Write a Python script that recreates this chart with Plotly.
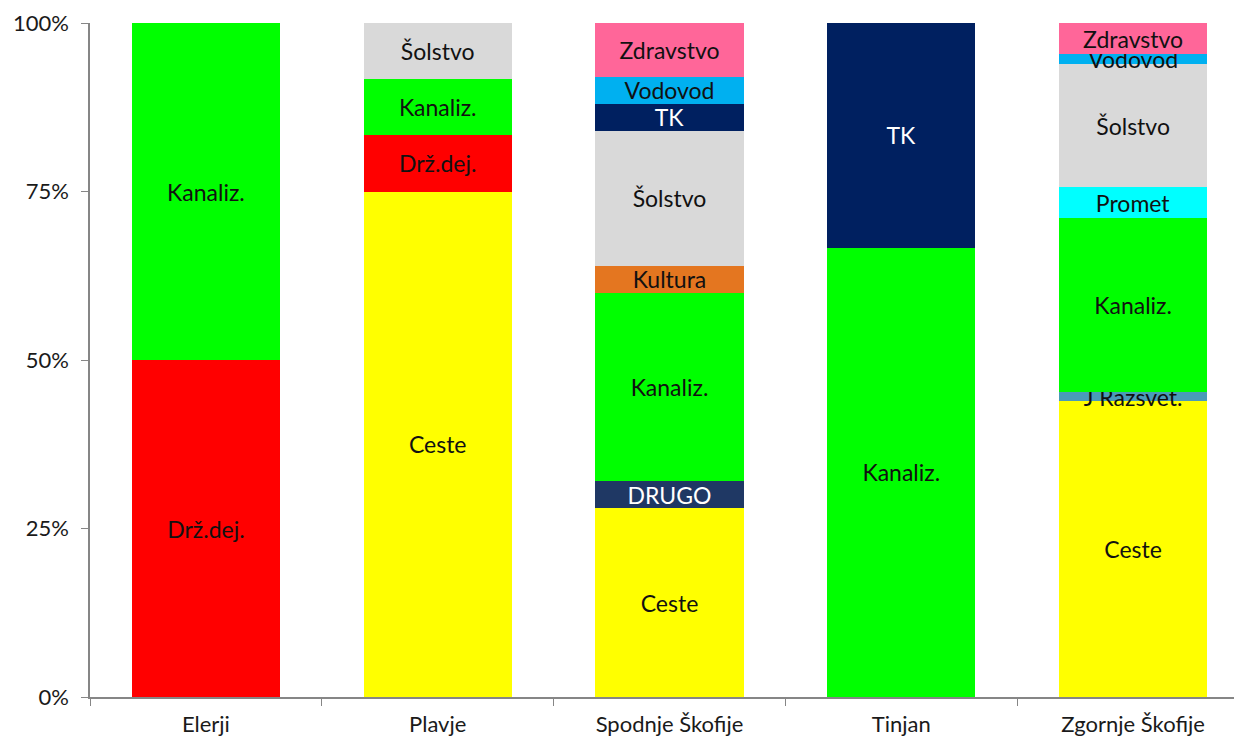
import plotly.graph_objects as go

categories = ["Elerji", "Plavje", "Spodnje Škofije", "Tinjan", "Zgornje Škofije"]

# share (%) of each category per location, bottom-to-top stacking order
ceste      = [0,     75.0,  28.0, 0,     43.87]
drugo      = [0,     0,     4.0,  0,     0]
j_razsvet  = [0,     0,     0,    0,     1.43]
drz_dej    = [50.0,  8.33,  0,    0,     0]
kanaliz    = [50.0,  8.33,  28.0, 66.67, 25.81]
kultura    = [0,     0,     4.0,  0,     0]
promet     = [0,     0,     0,    0,     4.51]
solstvo    = [0,     8.34,  20.0, 0,     18.25]
tk         = [0,     0,     4.0,  33.33, 0]
vodovod    = [0,     0,     4.0,  0,     1.48]
zdravstvo  = [0,     0,     8.0,  0,     4.65]

y_ticks = [0, 25, 50, 75, 100]
y_tick_labels = ["0%", "25%", "50%", "75%", "100%"]

series = [
    ("Ceste", ceste, "#FFFF00", "#111111"),
    ("DRUGO", drugo, "#1F3864", "white"),
    ("J Razsvet.", j_razsvet, "#4A9BB8", "#111111"),
    ("Drž.dej.", drz_dej, "#FF0000", "#111111"),
    ("Kanaliz.", kanaliz, "#00FF00", "#111111"),
    ("Kultura", kultura, "#E47620", "#111111"),
    ("Promet", promet, "#00FFFF", "#111111"),
    ("Šolstvo", solstvo, "#D9D9D9", "#111111"),
    ("TK", tk, "#002060", "white"),
    ("Vodovod", vodovod, "#00B0F0", "#111111"),
    ("Zdravstvo", zdravstvo, "#FF6699", "#111111"),
]

fig = go.Figure()
for name, vals, color, tcol in series:
    texts = [name if v > 0 else "" for v in vals]
    yvals = [v if v > 0 else None for v in vals]
    fig.add_trace(go.Bar(
        x=categories, y=yvals, name=name,
        marker=dict(color=color, line=dict(width=0)),
        text=texts, texttemplate="%{text}",
        textposition="inside", insidetextanchor="middle", textangle=0,
        textfont=dict(color=tcol, size=23, family="Lato"),
        hoverinfo="x+y+name",
    ))

fig.update_layout(
    barmode="stack",
    bargap=0.361,
    width=1243, height=734,
    margin=dict(l=82, r=2, t=15, b=45),
    paper_bgcolor="white", plot_bgcolor="white",
    showlegend=False,
    uniformtext=dict(minsize=23, mode="show"),
    font=dict(family="Lato", size=22, color="#1a1a1a"),
)
fig.update_xaxes(
    showline=True, linecolor="#868686", linewidth=1.5,
    ticks="outside", tickson="boundaries", ticklen=7, tickcolor="#868686",
    tickfont=dict(size=22, family="Lato", color="#1a1a1a"),
    ticklabelstandoff=7, automargin=False,
    showgrid=False,
)
fig.update_yaxes(
    range=[0, 100], tickmode="array", tickvals=y_ticks, ticktext=y_tick_labels,
    showline=True, linecolor="#868686", linewidth=1.5,
    ticks="outside", ticklen=7, tickcolor="#868686",
    tickfont=dict(size=22, family="Lato", color="#1a1a1a"),
    ticklabelstandoff=8, automargin=False,
    showgrid=False, zeroline=False,
)

fig.write_html("out.html")
